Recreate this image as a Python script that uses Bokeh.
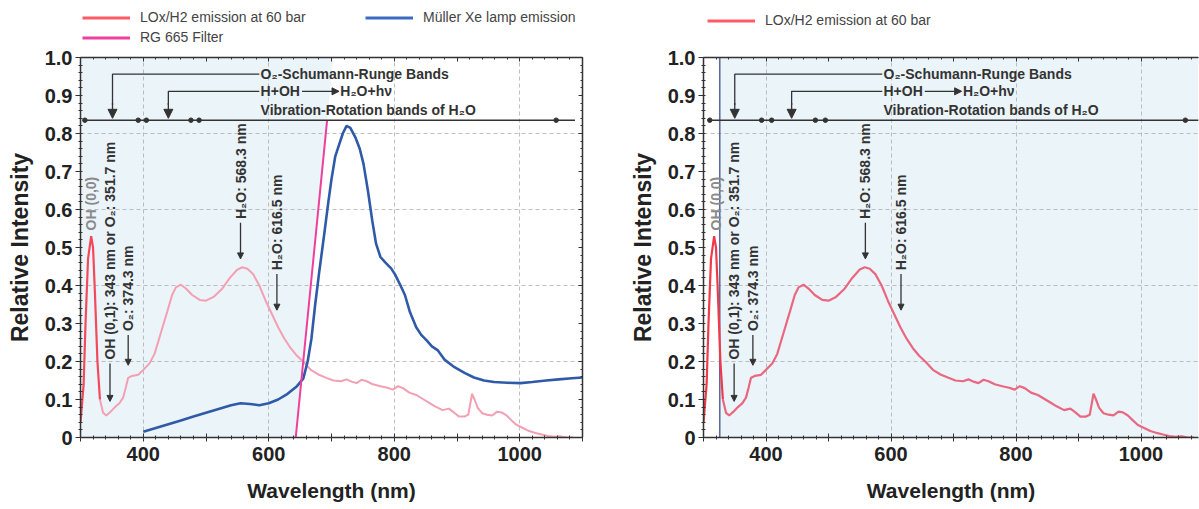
import math
from bokeh.plotting import figure
from bokeh.models import (Range1d, LinearAxis, FixedTicker, SingleIntervalTicker,
                          CustomJSTickFormatter, Legend, LegendItem, Arrow, NormalHead,
                          ColumnDataSource)
from bokeh.layouts import row, column
from bokeh.core.properties import value
from bokeh.embed import file_html
from bokeh.resources import INLINE

# ---------------- data ----------------
lox_wl = [300, 305, 308, 312, 317, 320, 323, 327, 331, 336, 341, 348, 355, 362, 368, 372,
          376, 382, 392, 400, 410, 418, 428, 438, 446, 452, 460, 468, 478, 490, 500, 512,
          525, 538, 550, 558, 566, 575, 585, 595, 605, 615, 625, 635, 645, 656, 667, 680,
          692, 703, 715, 724, 732, 740, 748, 756, 766, 778, 789, 798, 806, 814, 824, 835,
          845, 855, 865, 877, 887, 895, 903, 912, 918, 924, 928, 933, 940, 948, 956, 964,
          971, 979, 987, 995, 1005, 1015, 1025, 1035, 1045, 1055, 1065, 1075, 1085]
lox_int = [0.04, 0.14, 0.30, 0.47, 0.53, 0.50, 0.38, 0.20, 0.10, 0.065, 0.058, 0.068, 0.08,
           0.09, 0.105, 0.13, 0.157, 0.162, 0.165, 0.178, 0.195, 0.22, 0.275, 0.33, 0.375,
           0.395, 0.402, 0.392, 0.375, 0.362, 0.36, 0.37, 0.39, 0.42, 0.442, 0.448, 0.444,
           0.43, 0.40, 0.36, 0.325, 0.29, 0.26, 0.235, 0.215, 0.198, 0.178, 0.165, 0.157,
           0.15, 0.148, 0.153, 0.147, 0.143, 0.152, 0.148, 0.14, 0.135, 0.131, 0.126, 0.135,
           0.13, 0.118, 0.112, 0.102, 0.092, 0.082, 0.072, 0.076, 0.066, 0.055, 0.055, 0.06,
           0.115, 0.10, 0.078, 0.064, 0.06, 0.058, 0.068, 0.066, 0.058, 0.045, 0.033, 0.025,
           0.017, 0.012, 0.008, 0.004, 0.002, 0.003, 0.0, 0.0]
xe_wl = [400, 420, 440, 460, 480, 500, 520, 540, 555, 570, 585, 600, 615, 630, 645, 655,
         662, 668, 674, 680, 688, 695, 700, 706, 712, 718, 724, 730, 738, 745, 751, 758,
         765, 771, 778, 786, 795, 801, 810, 817, 825, 835, 843, 852, 860, 869, 880, 896,
         912, 927, 943, 959, 980, 1001, 1020, 1042, 1062, 1083, 1100]
xe_int = [0.015, 0.025, 0.035, 0.045, 0.055, 0.065, 0.075, 0.085, 0.09, 0.088, 0.085, 0.09,
          0.10, 0.115, 0.135, 0.155, 0.20, 0.26, 0.35, 0.43, 0.53, 0.62, 0.68, 0.74, 0.77,
          0.80, 0.82, 0.815, 0.79, 0.76, 0.72, 0.65, 0.57, 0.51, 0.475, 0.46, 0.445, 0.43,
          0.40, 0.375, 0.33, 0.29, 0.27, 0.255, 0.24, 0.23, 0.205, 0.185, 0.17, 0.158, 0.15,
          0.146, 0.144, 0.143, 0.146, 0.15, 0.153, 0.156, 0.158]
filter_wl = [643, 693]          # RG 665 filter edge
filter_int = [0.0, 0.835]
cutoff_wl = 326                 # short-wave limit (right panel)

x_label_ticks = [400, 600, 800, 1000]
y_grid_ticks = [0.2, 0.4, 0.6, 0.8]

label_lox = "LOx/H2 emission at 60 bar"
label_filter = "RG 665 Filter"
label_xe = "Müller Xe lamp emission"

peak_texts = ["OH (0,0)", "OH (0,1): 343 nm or O\u2082: 351.7 nm", "O\u2082: 374.3 nm",
              "H\u2082O: 568.3 nm", "H\u2082O: 616.5 nm"]

FONT = "Liberation Sans"
DARK = "#333333"
SHADE = "#ebf4f9"

HEAD = 45
H = 509 - HEAD

C_LOX_LEG = "#ff5b66"
C_FILTER = "#ee3f9c"
C_XE = "#2f5aa8"


def base_fig(width, x0, x1, bl, br, right_axis):
    p = figure(width=width, height=H, x_range=Range1d(x0, x1), y_range=Range1d(0, 1.0),
               output_backend="svg", toolbar_location=None,
               min_border_left=bl, min_border_right=br, min_border_top=12,
               min_border_bottom=72)
    p.outline_line_color = None
    p.background_fill_color = "white"
    p.border_fill_color = "white"

    xax = p.xaxis[0]
    xax.ticker = SingleIntervalTicker(interval=100, num_minor_ticks=5)
    xax.formatter = CustomJSTickFormatter(
        code="return (tick >= 400 && tick <= 1000 && Math.abs(tick % 200) < 1e-6) ? tick.toFixed(0) : '';")
    xax.axis_label = "Wavelength (nm)"
    yax = p.yaxis[0]
    yax.ticker = SingleIntervalTicker(interval=0.1, num_minor_ticks=5)
    yax.formatter = CustomJSTickFormatter(
        code="return Math.abs(tick) < 1e-9 ? '0' : tick.toFixed(1);")
    yax.axis_label = "Relative Intensity"
    for ax in (xax, yax):
        ax.axis_line_color = DARK
        ax.axis_line_width = 1.5
        ax.major_tick_line_color = DARK
        ax.minor_tick_line_color = DARK
        ax.major_label_text_font = FONT
        ax.major_label_text_font_style = "bold"
        ax.major_label_text_font_size = "20px"
        ax.major_label_text_color = "#222222"
        ax.axis_label_text_font = FONT
        ax.axis_label_text_font_style = "bold"
        ax.axis_label_text_color = "#222222"
    xax.major_tick_in = 4
    xax.major_tick_out = 4
    xax.minor_tick_in = 2
    xax.minor_tick_out = 2
    xax.major_label_standoff = 5
    xax.axis_label_standoff = 15
    xax.axis_label_text_font_size = "21px"
    yax.major_tick_in = 0
    yax.major_tick_out = 5
    yax.minor_tick_in = 2
    yax.minor_tick_out = 2
    yax.major_label_standoff = 3
    yax.axis_label_standoff = 9
    yax.axis_label_text_font_size = "23px"

    sides = [("above", SingleIntervalTicker(interval=100, num_minor_ticks=5))]
    if right_axis:
        sides.append(("right", SingleIntervalTicker(interval=0.1, num_minor_ticks=5)))
    for side, tk in sides:
        ax = LinearAxis(ticker=tk, formatter=CustomJSTickFormatter(code="return '';"),
                        major_label_text_font_size="0px", major_label_standoff=0,
                        major_tick_in=4, major_tick_out=0, minor_tick_in=2,
                        minor_tick_out=0, axis_line_color=DARK, axis_line_width=1.5,
                        major_tick_line_color=DARK, minor_tick_line_color=DARK)
        p.add_layout(ax, side)

    for g in (p.xgrid[0], p.ygrid[0]):
        g.grid_line_color = "#a9a9a9"
        g.grid_line_alpha = 0.75
        g.grid_line_dash = "4 3"
        g.grid_line_width = 1
    p.xgrid[0].ticker = FixedTicker(ticks=x_label_ticks)
    p.ygrid[0].ticker = FixedTicker(ticks=y_grid_ticks)
    return p


def annotate(p, xs, xcorner, text_x, dots, line_end):
    # rotated peak labels with arrows
    ys = [0.545, 0.205, 0.28, 0.575, 0.44]
    cols = ["#8a8a8a", DARK, DARK, DARK, DARK]
    p.text(x=xs, y=ys, text=peak_texts, angle=math.pi / 2, text_align="left",
           text_baseline="middle", text_font=value(FONT), text_font_style="bold",
           text_font_size="14px", text_color=cols)
    arr = ColumnDataSource(dict(x0=xs[1:], x1=xs[1:], y0=[0.195, 0.27, 0.565, 0.43],
                                y1=[0.095, 0.19, 0.47, 0.335]))
    p.add_layout(Arrow(end=NormalHead(size=6, fill_color=DARK, line_color=DARK, line_width=1),
                       x_start="x0", y_start="y0", x_end="x1", y_end="y1", source=arr,
                       line_color=DARK, line_width=1.3))
    # top band annotations
    yb = 0.835
    p.multi_line(xs=[[text_x - 2, xcorner[0], xcorner[0]], [text_x - 2, xcorner[1], xcorner[1]]],
                 ys=[[0.956, 0.956, yb + 0.04], [0.911, 0.911, yb + 0.04]],
                 line_color=DARK, line_width=1.3)
    br = ColumnDataSource(dict(x0=xcorner, x1=xcorner, y0=[yb + 0.045] * 2, y1=[yb + 0.005] * 2))
    p.add_layout(Arrow(end=NormalHead(size=9, fill_color=DARK, line_color=DARK, line_width=1),
                       x_start="x0", y_start="y0", x_end="x1", y_end="y1", source=br,
                       line_color=DARK, line_width=1.3))
    p.line([dots[0], line_end], [yb, yb], line_color=DARK, line_width=1.5)
    p.scatter(dots, [yb] * len(dots), size=4.5, color=DARK)
    tkw = dict(text_align="left", text_baseline="middle", text_font=value(FONT),
               text_font_style="bold", text_font_size="14px", text_color=DARK)
    p.text(x=[text_x, text_x, text_x + 127, text_x],
           y=[0.956, 0.911, 0.911, 0.863],
           text=["O\u2082-Schumann-Runge Bands", "H+OH", "H\u2082O+h\u03bd",
                 "Vibration-Rotation bands of H\u2082O"], **tkw)
    ha = ColumnDataSource(dict(x0=[text_x + 66], x1=[text_x + 125], y0=[0.911], y1=[0.911]))
    p.add_layout(Arrow(end=NormalHead(size=7, fill_color=DARK, line_color=DARK, line_width=1),
                       x_start="x0", y_start="y0", x_end="x1", y_end="y1", source=ha,
                       line_color=DARK, line_width=1.3))


def header(width, entries, vx, vy, label_width):
    """A strip above a panel that holds only its legend (series drawn out of view)."""
    h = figure(width=width, height=HEAD, x_range=Range1d(0, 1), y_range=Range1d(0, 1),
               output_backend="svg", toolbar_location=None, x_axis_type=None,
               y_axis_type=None, min_border=0)
    h.grid.visible = False
    h.outline_line_color = None
    h.background_fill_color = "white"
    h.border_fill_color = "white"
    items = []
    for lab, col, xs, ys in entries:
        r = h.line(xs, ys, line_color=col, line_width=3)
        items.append(LegendItem(label=lab, renderers=[r]))
    lg = Legend(items=items, location=(vx, vy), orientation="vertical", nrows=2,
                glyph_width=48, glyph_height=15, label_height=15, label_width=label_width,
                label_standoff=10, spacing=4, padding=0, margin=0,
                border_line_alpha=0, background_fill_alpha=0,
                label_text_font=FONT, label_text_font_size="14px", label_text_color="#444444")
    h.add_layout(lg)
    return h


split = 8  # index where the strong OH peak part ends

# ---------------- left panel ----------------
p1 = base_fig(600, 300, 1100, 80, 18, True)
slope = (filter_wl[1] - filter_wl[0]) / (filter_int[1] - filter_int[0])
shade_x = [p1.x_range.start, filter_wl[0], filter_wl[0] + slope * 1.0, p1.x_range.start]
r_sh = p1.patch(shade_x, [0, 0, 1.0, 1.0], fill_color=SHADE, line_color=None)
r_sh.level = "image"
p1.line(lox_wl[split:], lox_int[split:], line_color="#f3a0b2", line_width=2)
p1.line(lox_wl[:split + 1], lox_int[:split + 1], line_color="#f24a5c", line_width=2.2)
p1.line(xe_wl, xe_int, line_color=C_XE, line_width=2.6)
p1.line(filter_wl, filter_int, line_color=C_FILTER, line_width=2)
annotate(p1, [317, 347, 376, 555, 613], [351, 440], 587,
         [307, 392, 405, 476, 489, 1058], 1088)
h1 = header(600, [(label_lox, C_LOX_LEG, lox_wl, lox_int),
                  (label_filter, C_FILTER, filter_wl, filter_int),
                  (label_xe, "#3c6cc2", xe_wl, xe_int)], 2, 0, 221)

# ---------------- right panel ----------------
p2 = base_fig(599, 300, 1092, 103, 1, False)
r_sh2 = p2.patch([cutoff_wl, p2.x_range.end, p2.x_range.end, cutoff_wl], [0, 0, 1.0, 1.0],
                 fill_color=SHADE, line_color=None)
r_sh2.level = "image"
p2.line([cutoff_wl, cutoff_wl], [0, 1.0], line_color="#5d6d9c", line_width=1.6)
p2.line(lox_wl[split:], lox_int[split:], line_color="#e9677f", line_width=2.2)
p2.line(lox_wl[:split + 1], lox_int[:split + 1], line_color="#f03a4a", line_width=2.2)
annotate(p2, [320, 349, 379, 559, 616], [350, 441], 588,
         [310, 393, 409, 479, 495, 1071], 1092)
h2 = header(599, [(label_lox, C_LOX_LEG, lox_wl, lox_int)], 4, 13, 20)

layout = row(column(h1, p1), column(h2, p2))
open("out.html", "w").write(file_html(layout, INLINE))
